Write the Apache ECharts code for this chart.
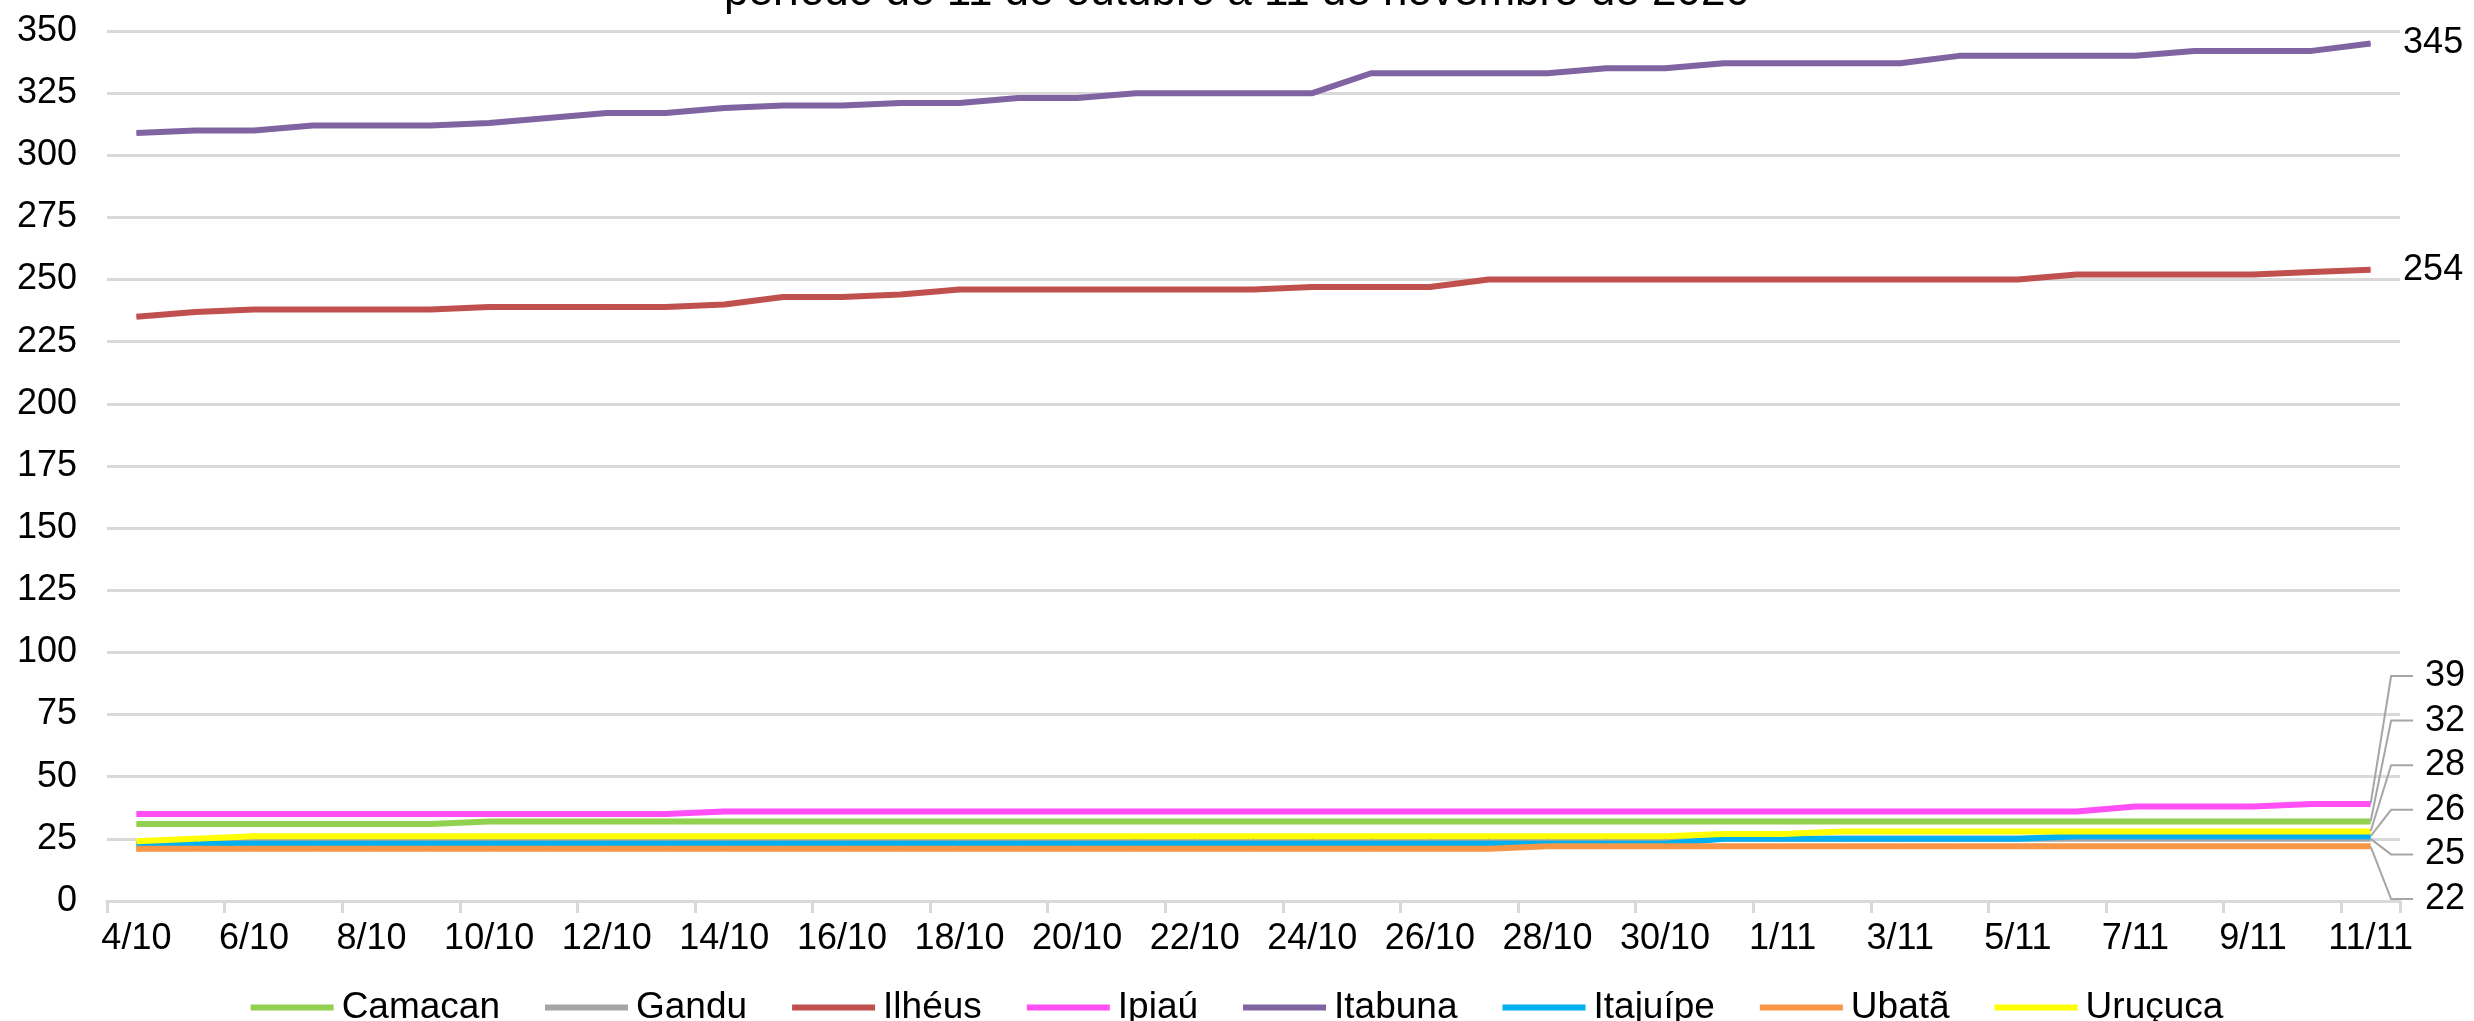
<!DOCTYPE html>
<html>
<head>
<meta charset="utf-8">
<title>Óbitos por município</title>
<script src="https://cdn.jsdelivr.net/npm/echarts@6/dist/echarts.min.js"></script>
<style>
html, body { margin: 0; padding: 0; background: #fff; }
#chart { width: 2474px; height: 1021px; }
</style>
</head>
<body>
<div id="chart"></div>
<script>
// eixo x: dias de 4/10 a 11/11
var dias = ['4/10','5/10','6/10','7/10','8/10','9/10','10/10','11/10','12/10','13/10',
	'14/10','15/10','16/10','17/10','18/10','19/10','20/10','21/10','22/10','23/10',
	'24/10','25/10','26/10','27/10','28/10','29/10','30/10','31/10','1/11','2/11',
	'3/11','4/11','5/11','6/11','7/11','8/11','9/11','10/11','11/11'];

// valores acumulados por município
var camacan  = [31,31,31,31,31,31,32,32,32,32,32,32,32,32,32,32,32,32,32,32,32,32,32,32,32,32,32,32,32,32,32,32,32,32,32,32,32,32,32];
var gandu    = [21,24,24,24,24,24,24,24,24,24,24,24,24,24,24,24,24,25,25,25,25,25,25,25,25,25,25,25,25,25,25,25,25,25,25,25,25,25,25];
var ilheus   = [235,237,238,238,238,238,239,239,239,239,240,243,243,244,246,246,246,246,246,246,247,247,247,250,250,250,250,250,250,250,250,250,250,252,252,252,252,253,254];
var ipiau    = [35,35,35,35,35,35,35,35,35,35,36,36,36,36,36,36,36,36,36,36,36,36,36,36,36,36,36,36,36,36,36,36,36,36,38,38,38,39,39];
var itabuna  = [309,310,310,312,312,312,313,315,317,317,319,320,320,321,321,323,323,325,325,325,325,333,333,333,333,335,335,337,337,337,337,340,340,340,340,342,342,342,345];
var itajuipe = [23,23,23,23,23,23,23,23,23,23,23,23,23,23,23,23,23,23,23,23,23,23,23,23,23,23,23,25,25,25,25,25,25,26,26,26,26,26,26];
var ubata    = [21,21,21,21,21,21,21,21,21,21,21,21,21,21,21,21,21,21,21,21,21,21,21,21,22,22,22,22,22,22,22,22,22,22,22,22,22,22,22];
var urucuca  = [24,25,26,26,26,26,26,26,26,26,26,26,26,26,26,26,26,26,26,26,26,26,26,26,26,26,26,27,27,28,28,28,28,28,28,28,28,28,28];

var nomes = ['Camacan','Gandu','Ilhéus','Ipiaú','Itabuna','Itajuípe','Ubatã','Uruçuca'];
var cores = ['#92d050','#a5a5a5','#c0504d','#ff4ff5','#8064a2','#00b0f0','#f79646','#ffff00'];
var valores = [camacan, gandu, ilheus, ipiau, itabuna, itajuipe, ubata, urucuca];
// as duas linhas de cima levam o rotulo sem linha guia
var semGuia = [false, false, true, false, true, false, false, false];

var fonte = '"Liberation Sans", Arial, sans-serif';
var posRotulo = {}; // y dos rotulos finais, calculado depois do 1o desenho

function montaSerie(idx) {
	var vals = valores[idx];
	var dados = [];
	for (var i = 0; i < vals.length; i++) {
		if (i == vals.length - 1) {
			dados.push({value: vals[i], label: {show: true}});
		} else {
			dados.push(vals[i]);
		}
	}
	var serie = {
		name: nomes[idx],
		type: 'line',
		data: dados,
		symbol: 'circle',
		symbolSize: 1,
		showSymbol: true,
		silent: true,
		emphasis: {disabled: true},
		lineStyle: {width: 6, color: cores[idx]},
		itemStyle: {color: cores[idx]},
		label: {show: false, position: 'right', formatter: '{c}', fontSize: 36, fontFamily: fonte, color: '#000'}
	};
	if (semGuia[idx]) {
		serie.label.distance = 32;
	} else {
		serie.label.distance = 42;
		serie.label.padding = [2, 100, 2, 12];
		serie.label.backgroundColor = 'rgba(0,0,0,0)';
		serie.labelLine = {show: true, length2: 22, lineStyle: {color: '#a6a6a6', width: 2}};
		serie.labelLayout = function(p) {
			var y = posRotulo[p.seriesIndex];
			if (y == null) return {};
			return {x: p.rect.x + p.rect.width + 42, y: y, align: 'left', verticalAlign: 'middle'};
		};
	}
	return serie;
}

var series = [];
for (var k = 0; k < nomes.length; k++) series.push(montaSerie(k));

var option = {
	animation: false,
	backgroundColor: '#fff',
	title: {
		text: 'período de 11 de outubro a 11 de novembro de 2020',
		left: 'center',
		top: -34,
		textStyle: {fontSize: 44, fontWeight: 'normal', color: '#000', fontFamily: fonte}
	},
	legend: {
		data: nomes,
		left: 'center',
		top: 984,
		icon: 'rect',
		itemWidth: 83,
		itemHeight: 6,
		itemGap: 45,
		textStyle: {fontSize: 37, color: '#000', fontFamily: fonte, padding: [0, 0, 0, 3]}
	},
	grid: {left: 107, right: 74, top: 31, bottom: 120, containLabel: false, outerBoundsMode: 'none'},
	xAxis: {
		type: 'category',
		data: dias,
		boundaryGap: true,
		axisLine: {lineStyle: {color: '#d9d9d9', width: 3}},
		axisTick: {show: true, interval: 1, length: 12, lineStyle: {color: '#d9d9d9', width: 3}},
		axisLabel: {interval: 1, fontSize: 36, color: '#000', margin: 20, fontFamily: fonte}
	},
	yAxis: {
		type: 'value',
		min: 0,
		max: 350,
		interval: 25,
		axisLine: {show: false},
		axisTick: {show: false},
		splitLine: {lineStyle: {color: '#d9d9d9', width: 3}},
		axisLabel: {fontSize: 36, color: '#000', margin: 30, fontFamily: fonte}
	},
	series: series
};

var grafico = echarts.init(document.getElementById('chart'));
grafico.setOption(option);

// rotulos das linhas de baixo: empilhados a partir da linha do zero
var ult = dias.length - 1;
var baixas = [];
for (var j = 0; j < nomes.length; j++) {
	if (!semGuia[j]) baixas.push(j);
}
baixas.sort(function(a, b) { return valores[a][ult] - valores[b][ult]; });
var yZero = grafico.convertToPixel({yAxisIndex: 0}, 0);
for (var j = 0; j < baixas.length; j++) {
	posRotulo[baixas[j]] = yZero - 2 - j * 44.6;
}
grafico.setOption(option, true);
</script>
</body>
</html>
